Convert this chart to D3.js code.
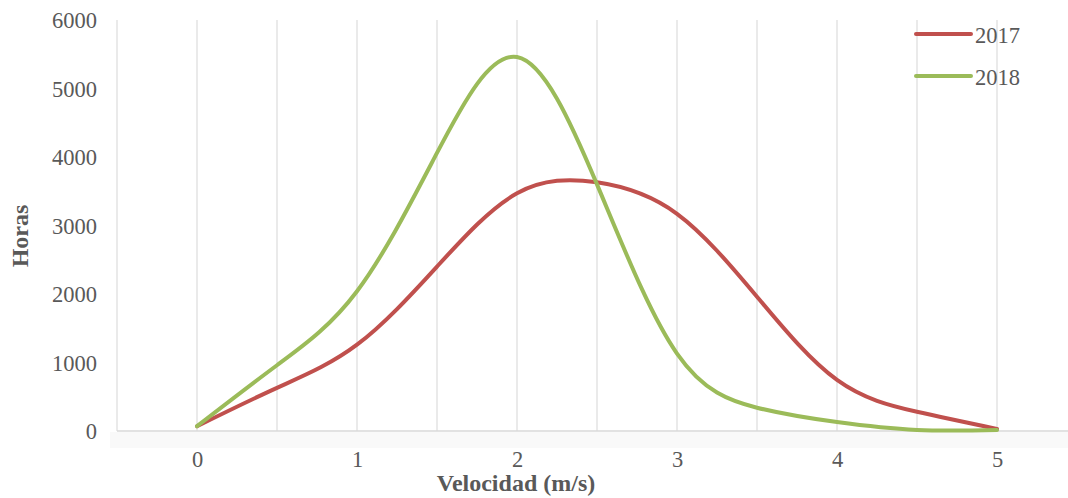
<!DOCTYPE html>
<html>
<head>
<meta charset="utf-8">
<script src="https://cdn.jsdelivr.net/npm/d3@7"></script>
<style>
  html, body { margin: 0; padding: 0; background: #fff; }
  svg { display: block; }
  svg text { font-family: "Liberation Serif", "Times New Roman", "DejaVu Serif", serif; }
</style>
</head>
<body>
<svg id="chart" width="1068" height="498"></svg>
<script>
// velocity bins (m/s)
const velocities = [0, 0.5, 1, 1.5, 2, 2.5, 3, 3.5, 4, 4.5, 5]
const hours2017 = [70, 630, 1260, 2400, 3470, 3630, 3170, 1960, 745, 280, 30]
const hours2018 = [70, 960, 2040, 4060, 5460, 3600, 1130, 340, 130, 15, 15]
const xTicks = [0, 1, 2, 3, 4, 5]
const xGrid = [-0.5, 0, 0.5, 1, 1.5, 2, 2.5, 3, 3.5, 4, 4.5, 5]
const yTicks = [0, 1000, 2000, 3000, 4000, 5000, 6000]

const series = [
  { name: '2017', color: '#C0504D', values: hours2017 },
  { name: '2018', color: '#9BBB59', values: hours2018 }
]

const TEXT_COLOR = '#595959'
const FONT = '"Liberation Serif", "Times New Roman", serif'
const svg = d3.select('#chart')

const x = d3.scaleLinear().domain([-0.5, 5.5]).range([117, 1077])
const y = d3.scaleLinear().domain([0, 6000]).range([431, 20])

// faint band under the axis
svg.append('rect')
  .attr('x', 110).attr('y', 432)
  .attr('width', 958).attr('height', 16)
  .attr('fill', '#f9f9f9')

// vertical gridlines
svg.append('g')
  .selectAll('line')
  .data(xGrid)
  .join('line')
  .attr('x1', d => x(d)).attr('x2', d => x(d))
  .attr('y1', y(6000)).attr('y2', y(0))
  .attr('stroke', '#e3e3e3')
  .attr('stroke-width', 1.5)

// x axis
const gx = svg.append('g')
  .attr('transform', `translate(0,${y(0)})`)
  .call(d3.axisBottom(x).tickValues(xTicks).tickSize(0).tickPadding(0).tickFormat(d3.format('d')))
  .attr('font-family', FONT)
gx.select('.domain').remove()
gx.append('line')
  .attr('x1', 117).attr('x2', 1068)
  .attr('stroke', '#d9d9d9').attr('stroke-width', 1.5)
gx.selectAll('text')
  .attr('y', 36)
  .attr('dy', null)
  .attr('fill', TEXT_COLOR)
  .style('font-size', '22.5px')

// y axis
const gy = svg.append('g')
  .attr('transform', 'translate(97,0)')
  .call(d3.axisLeft(y).tickValues(yTicks).tickSize(0).tickPadding(0).tickFormat(d3.format('d')))
  .attr('font-family', FONT)
gy.select('.domain').remove()
gy.selectAll('text')
  .attr('fill', TEXT_COLOR)
  .attr('dy', '0.34em')
  .style('font-size', '22.5px')

// axis titles
svg.append('text')
  .attr('x', 516).attr('y', 491)
  .attr('text-anchor', 'middle')
  .attr('fill', TEXT_COLOR)
  .style('font-size', '24px')
  .style('font-weight', 'bold')
  .text('Velocidad (m/s)')

svg.append('text')
  .attr('transform', 'translate(28,236) rotate(-90)')
  .attr('text-anchor', 'middle')
  .attr('fill', TEXT_COLOR)
  .style('font-size', '24px')
  .style('font-weight', 'bold')
  .text('Horas')

// smoothed lines
const line = d3.line()
  .x((d, i) => x(velocities[i]))
  .y(d => y(d))
  .curve(d3.curveNatural)

svg.append('g')
  .selectAll('path')
  .data(series)
  .join('path')
  .attr('d', d => line(d.values))
  .attr('fill', 'none')
  .attr('stroke', d => d.color)
  .attr('stroke-width', 4)
  .attr('stroke-linejoin', 'round')
  .attr('stroke-linecap', 'round')

// legend
const legend = svg.append('g')
  .selectAll('g')
  .data(series)
  .join('g')
  .attr('transform', (d, i) => `translate(916,${34 + i * 42})`)
legend.append('line')
  .attr('x1', 0).attr('x2', 55)
  .attr('stroke', d => d.color)
  .attr('stroke-width', 4)
  .attr('stroke-linecap', 'round')
legend.append('text')
  .attr('x', 59).attr('y', 9)
  .attr('fill', TEXT_COLOR)
  .style('font-size', '22.5px')
  .text(d => d.name)
</script>
</body>
</html>
